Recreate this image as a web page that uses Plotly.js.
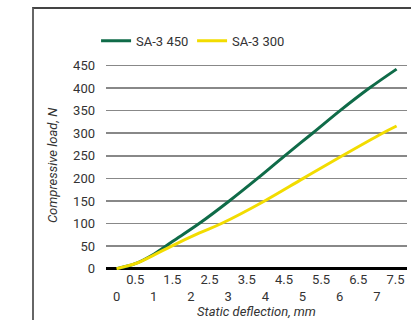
<!DOCTYPE html>
<html>
<head>
<meta charset="utf-8">
<script src="https://cdn.plot.ly/plotly-3.0.1.min.js"></script>
<style>
  html, body { margin: 0; padding: 0; background: #fff; }
  #wrap { position: relative; width: 411px; height: 320px; overflow: hidden; }
  #frame { position: absolute; left: 32px; top: 7px; width: 400px; height: 330px;
           border-left: 2px solid #666; border-top: 2px solid #444; box-sizing: border-box; pointer-events: none; }
  #chart { position: absolute; left: 0; top: 0; width: 411px; height: 320px; }
</style>
</head>
<body>
<div id="wrap">
  <div id="chart"></div>
  <div id="frame"></div>
</div>
<script>
// Data
const sa450X = [0, 0.5, 1.0, 1.5, 2.22, 3.03, 3.79, 4.52, 5.27, 6.01, 6.8, 7.53];
const sa450Y = [0, 11, 32, 60, 100, 150, 200, 250, 300, 350, 400, 442];
const sa300X = [0, 0.5, 1.0, 1.48, 2.23, 2.82, 3.98, 5.02, 6.07, 7.15, 7.53];
const sa300Y = [0, 11, 30, 50, 79, 100, 150, 200, 250, 300, 316];
const xTickVals = [0, 0.5, 1, 1.5, 2, 2.5, 3, 3.5, 4, 4.5, 5, 5.5, 6, 6.5, 7, 7.5];
const yTickVals = [0, 50, 100, 150, 200, 250, 300, 350, 400, 450];
const seriesNames = ['SA-3 450', 'SA-3 300'];

const xTickText = xTickVals.map(v => Number.isInteger(v) ? '<br>' + v : String(v));

const font = { family: 'Roboto, sans-serif', size: 13, color: '#333' };

const traces = [
  { x: sa450X, y: sa450Y, name: seriesNames[0], type: 'scatter', mode: 'lines',
    line: { color: '#0f6b48', width: 3, shape: 'spline', smoothing: 1 } },
  { x: sa300X, y: sa300Y, name: seriesNames[1], type: 'scatter', mode: 'lines',
    line: { color: '#f2dc00', width: 3, shape: 'spline', smoothing: 1 } }
];

const layout = {
  width: 411, height: 320,
  margin: { l: 106, r: 4, t: 61, b: 50, pad: 0 },
  paper_bgcolor: '#fff', plot_bgcolor: '#fff',
  font: font,
  showlegend: true,
  legend: {
    orientation: 'h', x: -0.033, xanchor: 'left', y: 1.097, yanchor: 'middle',
    xref: 'paper', yref: 'paper',
    font: font, entrywidth: 51, entrywidthmode: 'pixels',
    bgcolor: 'rgba(0,0,0,0)', borderwidth: 0
  },
  xaxis: {
    range: [-0.285, 7.81],
    tickvals: xTickVals, ticktext: xTickText,
    showgrid: false, zeroline: false, showline: false,
    ticks: '', tickfont: font,
    title: { text: '<i>Static deflection, mm</i>', font: font, standoff: 2 }
  },
  yaxis: {
    range: [-3, 460],
    tickvals: yTickVals,
    showgrid: true, gridcolor: '#888', gridwidth: 1.6,
    zeroline: true, zerolinecolor: '#000', zerolinewidth: 2.4,
    showline: false, ticks: '', tickfont: font,
    ticklabelstandoff: 10,
    title: { text: '<i>Compressive load, N</i>', font: font, standoff: 12 }
  }
};

Plotly.newPlot('chart', traces, layout, { displayModeBar: false, staticPlot: true });
</script>
</body>
</html>
